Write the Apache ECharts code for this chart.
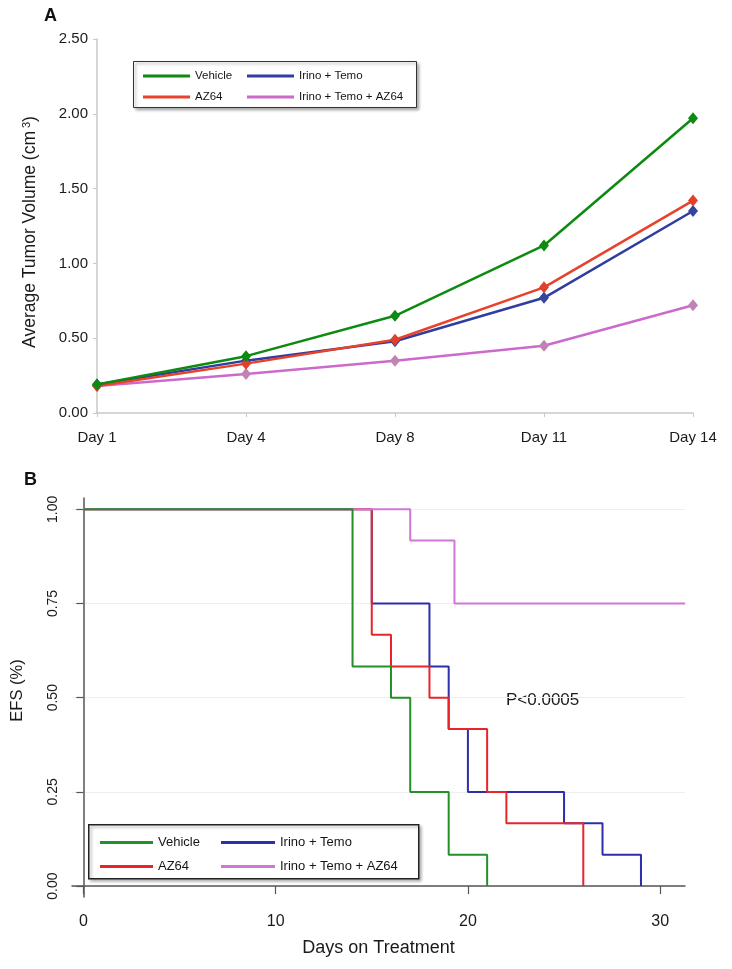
<!DOCTYPE html>
<html><head><meta charset="utf-8">
<script src="https://cdn.jsdelivr.net/npm/echarts@6/dist/echarts.min.js"></script>
<style>html,body{margin:0;padding:0;background:#fff}#c{width:732px;height:969px}</style>
</head><body><div id="c"></div>
<script>
// ---- Panel A data ----
const days = ['Day 1', 'Day 4', 'Day 8', 'Day 11', 'Day 14'];
const vehicleVol = [0.19, 0.38, 0.65, 1.12, 1.97];
const az64Vol = [0.18, 0.33, 0.49, 0.84, 1.42];
const irinoTemoVol = [0.19, 0.35, 0.48, 0.77, 1.35];
const comboVol = [0.18, 0.26, 0.35, 0.45, 0.72];
const volTicks = [0, 0.5, 1.0, 1.5, 2.0, 2.5];

// ---- Panel B data: [day, EFS] at each event (step curves) ----
const vehicleEFS = [[0, 1], [14, 0.583], [16, 0.5], [17, 0.25], [19, 0.083], [21, 0]];
const az64EFS = [[0, 1], [15, 0.667], [16, 0.583], [18, 0.5], [19, 0.417], [21, 0.25], [22, 0.167], [26, 0]];
const irinoTemoEFS = [[0, 1], [15, 0.75], [18, 0.583], [19, 0.417], [20, 0.25], [25, 0.167], [27, 0.083], [29, 0]];
const comboEFS = [[0, 1], [17, 0.917], [19.3, 0.75], [31.3, 0.75]];
const efsTicks = [0, 0.25, 0.5, 0.75, 1.0];
const dayTicks = [0, 10, 20, 30];

const colA = {'Vehicle': '#0d8a12', 'AZ64': '#e8412c', 'Irino + Temo': '#2f3d9e', 'Irino + Temo + AZ64': '#cc6acc'};
const markA = {'Vehicle': '#0d8a12', 'AZ64': '#e0402c', 'Irino + Temo': '#3445a0', 'Irino + Temo + AZ64': '#c183b3'};
const colB = {'Vehicle': '#23902a', 'AZ64': '#e8262a', 'Irino + Temo': '#2c2fa8', 'Irino + Temo + AZ64': '#d277d6'};

const FF = '"Liberation Sans", Arial, Helvetica, sans-serif';

function legendItem(name, left, top, color, fontSize, w) {
  return {
    show: true, left: left, top: top, padding: 0, icon: 'rect',
    itemWidth: w, itemHeight: 3, selectedMode: false,
    data: [{name: name, itemStyle: {color: color}, lineStyle: {color: color}}],
    textStyle: {fontSize: fontSize, color: '#151515', fontFamily: FF}
  };
}

const chart = echarts.init(document.getElementById('c'), null, {renderer: 'canvas'});

const seriesA = [
  ['Irino + Temo + AZ64', comboVol],
  ['Irino + Temo', irinoTemoVol],
  ['AZ64', az64Vol],
  ['Vehicle', vehicleVol]
].map(([n, d]) => ({
  name: n, type: 'line', xAxisIndex: 0, yAxisIndex: 0, data: d,
  symbol: 'diamond', symbolSize: [10, 12],
  lineStyle: {color: colA[n], width: 2.5},
  itemStyle: {color: markA[n]},
  animation: false
}));

const seriesB = [
  ['Irino + Temo', irinoTemoEFS],
  ['AZ64', az64EFS],
  ['Irino + Temo + AZ64', comboEFS],
  ['Vehicle', vehicleEFS]
].map(([n, d]) => ({
  name: n, type: 'line', xAxisIndex: 1, yAxisIndex: 1, data: d,
  step: 'end', symbol: 'none', showSymbol: false,
  lineStyle: {color: colB[n], width: 2},
  itemStyle: {color: colB[n]},
  animation: false
}));

const option = {
  backgroundColor: '#fff',
  animation: false,
  textStyle: {fontFamily: FF},
  grid: [
    {left: 97, right: 39, top: 39, bottom: 556, containLabel: false},
    {left: 72, right: 47, top: 498, bottom: 72, containLabel: false}
  ],
  xAxis: [
    {
      type: 'category', gridIndex: 0, data: days, boundaryGap: false,
      axisLine: {lineStyle: {color: '#c8c8c8', width: 1.5}},
      axisTick: {show: true, length: 4, lineStyle: {color: '#c8c8c8'}},
      axisLabel: {fontSize: 15, color: '#1a1a1a', margin: 17, fontFamily: FF},
      splitLine: {show: false}
    },
    {
      type: 'value', gridIndex: 1, min: -0.59, max: 31.29,
      axisLine: {lineStyle: {color: '#555', width: 1.5}},
      axisTick: {show: true, length: 8, customValues: dayTicks, lineStyle: {color: '#555', width: 1.2}},
      axisLabel: {fontSize: 16, color: '#1a1a1a', margin: 17, customValues: dayTicks, fontFamily: FF},
      splitLine: {show: false},
      name: 'Days on Treatment', nameLocation: 'middle', nameGap: 42,
      nameTextStyle: {fontSize: 18, color: '#1a1a1a', fontFamily: FF}
    }
  ],
  yAxis: [
    {
      type: 'value', gridIndex: 0, min: 0, max: 2.5, interval: 0.5,
      axisLine: {show: true, lineStyle: {color: '#c8c8c8', width: 1.5}},
      axisTick: {show: true, length: 4, lineStyle: {color: '#c8c8c8'}},
      axisLabel: {fontSize: 15, color: '#1a1a1a', margin: 9, fontFamily: FF, formatter: v => v.toFixed(2)},
      splitLine: {show: false},
      name: 'Average Tumor Volume (cm{sup|3})', nameLocation: 'middle', nameGap: 58,
      nameTextStyle: {fontSize: 17.5, color: '#1a1a1a', fontFamily: FF, padding: [0, 12, 0, 0],
        rich: {sup: {fontSize: 11, verticalAlign: 'top', padding: [0, 0, 0, 3], color: '#1a1a1a', fontFamily: FF}}}
    },
    {
      type: 'value', gridIndex: 1, min: -0.029, max: 1.03,
      axisLine: {show: true, lineStyle: {color: '#555', width: 1.5}},
      axisTick: {show: true, length: 7, customValues: efsTicks, lineStyle: {color: '#555', width: 1.2}},
      axisLabel: {fontSize: 14, color: '#1a1a1a', margin: 12, rotate: 90, customValues: efsTicks,
        fontFamily: FF, formatter: v => v.toFixed(2)},
      splitLine: {show: true, customValues: efsTicks, lineStyle: {color: '#efefef', width: 1}},
      name: 'EFS (%)', nameLocation: 'middle', nameGap: 46,
      nameTextStyle: {fontSize: 16.5, color: '#1a1a1a', fontFamily: FF, padding: [0, 0, 0, 14]}
    }
  ],
  legend: [
    legendItem('Vehicle', 143, 70, colA['Vehicle'], 11.5, 47),
    legendItem('AZ64', 143, 91, colA['AZ64'], 11.5, 47),
    legendItem('Irino + Temo', 247, 70, colA['Irino + Temo'], 11.5, 47),
    legendItem('Irino + Temo + AZ64', 247, 91, colA['Irino + Temo + AZ64'], 11.5, 47),
    legendItem('Vehicle', 100, 836, colB['Vehicle'], 13, 53),
    legendItem('AZ64', 100, 860, colB['AZ64'], 13, 53),
    legendItem('Irino + Temo', 221, 836, colB['Irino + Temo'], 13, 54),
    legendItem('Irino + Temo + AZ64', 221, 860, colB['Irino + Temo + AZ64'], 13, 54)
  ],
  graphic: [
    {type: 'text', left: 44, top: 7, style: {text: 'A', fontSize: 18, fontWeight: 'bold', fill: '#111', fontFamily: FF}},
    {type: 'text', left: 24, top: 471, style: {text: 'B', fontSize: 18, fontWeight: 'bold', fill: '#111', fontFamily: FF}},
    {type: 'rect', left: 133, top: 61, z: 0, shape: {width: 283, height: 46},
      style: {fill: '#fff', stroke: '#333', lineWidth: 1, shadowBlur: 3, shadowOffsetX: 2, shadowOffsetY: 2, shadowColor: 'rgba(0,0,0,0.35)'}},
    {type: 'rect', left: 88, top: 824, z: 0, shape: {width: 330, height: 54},
      style: {fill: '#fff', stroke: '#222', lineWidth: 1.5, shadowBlur: 3, shadowOffsetX: 2, shadowOffsetY: 2, shadowColor: 'rgba(0,0,0,0.3)'}},
    {type: 'text', left: 506, top: 692, style: {text: 'P<0.0005', fontSize: 17, fill: '#1a1a1a', fontFamily: FF}}
  ],
  series: seriesA.concat(seriesB)
};
chart.setOption(option);
</script>
</body></html>
